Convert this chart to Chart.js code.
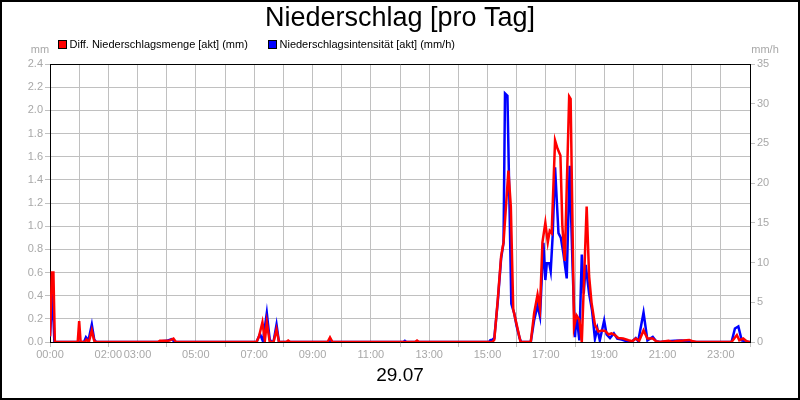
<!DOCTYPE html>
<html>
<head>
<meta charset="utf-8">
<title>Niederschlag [pro Tag]</title>
<script src="https://cdn.jsdelivr.net/npm/chart.js@4/dist/chart.umd.min.js"></script>
<style>
  body { margin: 0; background: #fff; }
  canvas { display: block; }
</style>
</head>
<body>
<canvas id="rainChart" width="800" height="400"></canvas>
<script>
const redMinutes = [0, 4, 7, 10, 57, 60, 63, 72, 75, 80, 86, 91, 95,
  222, 226, 240, 246, 254, 259, 425, 430, 437, 442, 446, 452, 460, 466, 471,
  486, 490, 494, 571, 576, 581, 751, 755, 759,
  910, 914, 921, 928, 933, 943, 948, 953, 960, 968, 989, 996, 1003, 1008, 1013,
  1019, 1024, 1028, 1032, 1039, 1044, 1050, 1054, 1059, 1068, 1071, 1078, 1083,
  1089, 1094, 1104, 1109, 1114, 1121, 1128, 1135, 1142, 1149, 1155, 1162, 1169,
  1179, 1190, 1198, 1205, 1212, 1221, 1229, 1240, 1247, 1255, 1272, 1280, 1290,
  1303, 1315, 1323, 1330, 1402, 1413, 1418, 1426, 1433, 1438, 1440];
const redValues = [0.05, 0.6, 0.6, 0, 0, 0.18, 0, 0, 0.02, 0, 0.1, 0.01, 0,
  0, 0.01, 0.01, 0.012, 0.03, 0, 0, 0.05, 0.17, 0.01, 0.17, 0, 0, 0.11, 0,
  0, 0.012, 0, 0, 0.04, 0, 0, 0.012, 0,
  0, 0.02, 0.36, 0.74, 0.86, 1.48, 1.17, 0.28, 0.15, 0, 0, 0.25, 0.41, 0.29, 0.86,
  1.03, 0.86, 0.96, 0.94, 1.74, 1.67, 1.61, 1.0, 0.7, 2.12, 2.1, 0.13, 0.23,
  0.19, 0, 1.17, 0.57, 0.34, 0.15, 0.09, 0.1, 0.095, 0.065, 0.075, 0.06, 0.035,
  0.03, 0.015, 0.006, 0.03, 0.01, 0.1, 0.03, 0.03, 0.006, 0, 0.01, 0, 0.008,
  0.012, 0.018, 0.006, 0, 0, 0.06, 0.015, 0.03, 0.006, 0, 0];

const blueMinutes = [0, 5, 9, 70, 74, 79, 86, 91, 95,
  225, 230, 240, 250, 255, 259, 425, 432, 438, 446, 452, 456, 460, 466, 471,
  575, 577, 581, 727, 730, 733,
  903, 906, 910, 914, 921, 928, 933, 936, 941, 945, 949, 955, 960, 966, 969,
  989, 996, 1003, 1008, 1015, 1019, 1022, 1027, 1030, 1034, 1039, 1046, 1051,
  1056, 1063, 1069, 1075, 1080, 1083, 1089, 1094, 1098, 1102, 1109, 1115, 1121,
  1126, 1131, 1140, 1145, 1152, 1160, 1167, 1176, 1186, 1198, 1205, 1210, 1221,
  1229, 1240, 1247, 1255, 1270, 1285, 1300, 1315, 1323, 1402, 1409, 1416, 1423,
  1430, 1437, 1440];
const blueValues = [0.7, 6.1, 0, 0, 0.6, 0.2, 2.2, 0.3, 0,
  0, 0.1, 0.15, 0.37, 0.1, 0, 0, 1.0, 0.1, 3.65, 0.3, 0, 0.1, 2.2, 0,
  0, 0.3, 0, 0, 0.15, 0,
  0, 0.25, 0.3, 0.5, 5.0, 10.5, 12.5, 31.3, 31.0, 18, 4.8, 3.6, 2.0, 0.5, 0,
  0, 2.75, 4.6, 3.2, 12.5, 7.8, 9.9, 9.9, 8.9, 13.3, 22, 13.7, 13.1,
  11.2, 8.0, 22.2, 9.5, 0.6, 3.4, 0.2, 11, 6.1, 9.7, 6.1, 4.0, 0.4,
  1.7, 0.2, 2.7, 0.95, 0.5, 1.1, 0.43, 0.3, 0.1, 0.1, 0.5, 0.1, 3.7,
  0.2, 0.65, 0.1, 0, 0.1, 0.15, 0.2, 0.1, 0, 0, 1.7, 1.95, 0.2,
  0.1, 0, 0];

// Beschriftete Stunden der x-Achse (wie im Original, 01:00 fehlt)
const xLabelHours = [0, 2, 3, 5, 7, 9, 11, 13, 15, 17, 19, 21, 23];
const xLabelTexts = ['00:00', '02:00', '03:00', '05:00', '07:00', '09:00', '11:00',
  '13:00', '15:00', '17:00', '19:00', '21:00', '23:00'];

const seriesNames = ['Diff. Niederschlagsmenge [akt] (mm)', 'Niederschlagsintensität [akt] (mm/h)'];
const dateLabel = '29.07';

const FONT = "'Liberation Sans', Arial, sans-serif";
const GRID = '#c0c0c0';
const TICK_TEXT = '#a8a8a8';

function toPoints(minutes, values) {
    return minutes.map((m, i) => ({ x: m / 60, y: values[i] }));
}

// Legende, Einheiten und Rahmen selbst zeichnen
const framePlugin = {
    id: 'frame',
    beforeDraw(chart) {
        const ctx = chart.ctx;
        ctx.save();
        ctx.fillStyle = '#fff';
        ctx.fillRect(0, 0, chart.width, chart.height);
        ctx.restore();
    },
    afterDraw(chart) {
        const ctx = chart.ctx;
        const a = chart.chartArea;
        ctx.save();
        // obere Kante der Zeichenfläche
        ctx.strokeStyle = '#000';
        ctx.lineWidth = 1;
        ctx.beginPath();
        ctx.moveTo(a.left, a.top + 0.5);
        ctx.lineTo(a.right + 1, a.top + 0.5);
        ctx.stroke();

        // Legende
        const legendX = [58.5, 268.5];
        ctx.font = '11px ' + FONT;
        ctx.textBaseline = 'alphabetic';
        chart.data.datasets.forEach((ds, i) => {
            ctx.fillStyle = ds.borderColor;
            ctx.fillRect(legendX[i], 40.5, 8, 8);
            ctx.strokeStyle = '#000';
            ctx.strokeRect(legendX[i], 40.5, 8, 8);
            ctx.fillStyle = '#000';
            ctx.fillText(ds.label, legendX[i] + 11, 48);
        });

        // Einheiten über den Achsen
        ctx.fillStyle = TICK_TEXT;
        ctx.textAlign = 'center';
        ctx.fillText('mm', 40, 53);
        ctx.fillText('mm/h', 765, 53);

        // äußerer Rahmen
        ctx.lineWidth = 2;
        ctx.strokeStyle = '#000';
        ctx.strokeRect(1, 1, chart.width - 2, chart.height - 2);
        ctx.restore();
    }
};

const ctx = document.getElementById('rainChart').getContext('2d');
const chart = new Chart(ctx, {
    type: 'line',
    data: {
        datasets: [{
            label: seriesNames[0],
            data: toPoints(redMinutes, redValues),
            yAxisID: 'y',
            borderColor: '#ff0000',
            backgroundColor: '#ff0000',
            borderWidth: 2.5,
            pointRadius: 0,
            tension: 0
        }, {
            label: seriesNames[1],
            data: toPoints(blueMinutes, blueValues),
            yAxisID: 'y2',
            borderColor: '#0000ff',
            backgroundColor: '#0000ff',
            borderWidth: 2.5,
            pointRadius: 0,
            tension: 0
        }]
    },
    options: {
        responsive: false,
        animation: false,
        devicePixelRatio: 1,
        layout: { padding: 0 },
        plugins: {
            legend: { display: false },
            tooltip: { enabled: false },
            title: {
                display: true,
                text: 'Niederschlag [pro Tag]',
                color: '#000',
                font: { family: FONT, size: 27, weight: 'normal' },
                padding: { top: 2, bottom: 29.6 }
            }
        },
        scales: {
            x: {
                type: 'linear',
                min: 0,
                max: 24,
                afterFit: s => { s.height = 58; },
                border: { display: true, color: '#000', width: 1 },
                grid: {
                    color: GRID,
                    tickLength: 5,
                    // Striche nur an geraden Stunden
                    tickColor: c => (c.tick && c.tick.value % 2 === 0) ? GRID : 'rgba(0,0,0,0)'
                },
                ticks: {
                    stepSize: 1,
                    autoSkip: false,
                    maxRotation: 0,
                    padding: 1,
                    color: TICK_TEXT,
                    font: { family: FONT, size: 11 },
                    callback: v => {
                        const i = xLabelHours.indexOf(v);
                        return i >= 0 ? xLabelTexts[i] : '';
                    }
                },
                title: {
                    display: true,
                    text: dateLabel,
                    color: '#000',
                    font: { family: FONT, size: 19 },
                    padding: { top: 0, bottom: 12.6 }
                }
            },
            y: {
                position: 'left',
                min: 0,
                max: 2.4,
                afterFit: s => { s.width = 50; },
                border: { display: true, color: '#000', width: 1 },
                grid: { color: GRID, tickLength: 5 },
                ticks: {
                    stepSize: 0.2,
                    padding: 2,
                    color: TICK_TEXT,
                    font: { family: FONT, size: 11 },
                    callback: v => v.toFixed(1)
                }
            },
            y2: {
                position: 'right',
                min: 0,
                max: 35,
                afterFit: s => { s.width = 50; },
                border: { display: true, color: '#000', width: 1 },
                grid: { drawOnChartArea: false, color: GRID, tickLength: 5 },
                ticks: {
                    stepSize: 5,
                    padding: 2,
                    color: TICK_TEXT,
                    font: { family: FONT, size: 11 }
                }
            }
        }
    },
    plugins: [framePlugin]
});
</script>
</body>
</html>
